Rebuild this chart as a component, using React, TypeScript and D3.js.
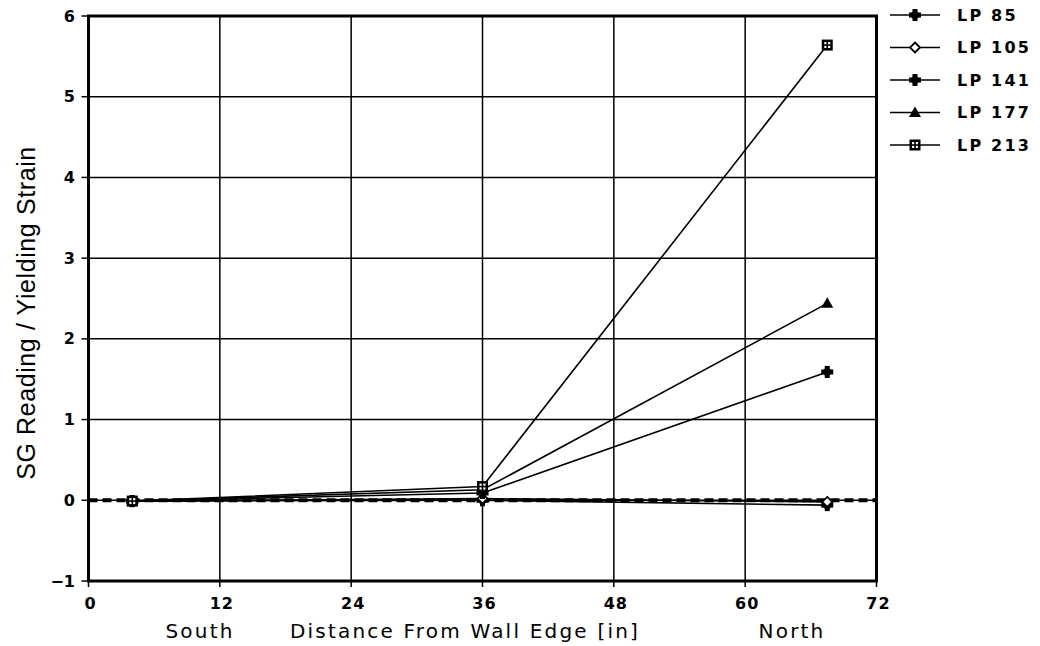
import React from "react";
import * as d3 from "d3";

const xPositions = [4, 36, 67.5];
const seriesNames = ["LP 85", "LP 105", "LP 141", "LP 177", "LP 213"];
const lp85 = [-0.01, 0.0, -0.06];
const lp105 = [-0.01, 0.02, -0.02];
const lp141 = [-0.01, 0.09, 1.59];
const lp177 = [-0.01, 0.13, 2.44];
const lp213 = [-0.01, 0.17, 5.64];
const markerKinds = ["plus", "diamond", "plus", "triangle", "boxcross"];
const xTicks = [0, 12, 24, 36, 48, 60, 72];
const yTicks = [-1, 0, 1, 2, 3, 4, 5, 6];

const seriesValues = [lp85, lp105, lp141, lp177, lp213];

const W = 1040, H = 646;
const L = 88.5, R = 876.5, T = 16, B = 581;

function Marker({ kind, x, y }: { kind: string; x: number; y: number }) {
  if (kind === "plus") {
    return (
      <g transform={`translate(${x},${y})`}>
        <rect x={-6} y={-2.5} width={12} height={5} fill="#000" />
        <rect x={-2.5} y={-6} width={5} height={12} fill="#000" />
        <circle r={4} fill="#000" />
      </g>
    );
  }
  if (kind === "diamond") {
    return (
      <path
        transform={`translate(${x},${y})`}
        d="M0,-5L5,0L0,5L-5,0Z"
        fill="#fff"
        stroke="#000"
        strokeWidth={1.8}
      />
    );
  }
  if (kind === "triangle") {
    return <path transform={`translate(${x},${y})`} d="M0,-6L6,4.5L-6,4.5Z" fill="#000" />;
  }
  return (
    <g transform={`translate(${x},${y})`}>
      <rect x={-5.5} y={-5.5} width={11} height={11} fill="#000" />
      <rect x={-3} y={-3} width={2.2} height={2.2} fill="#fff" />
      <rect x={0.8} y={-3} width={2.2} height={2.2} fill="#fff" />
      <rect x={-3} y={0.8} width={2.2} height={2.2} fill="#fff" />
      <rect x={0.8} y={0.8} width={2.2} height={2.2} fill="#fff" />
    </g>
  );
}

export default function App() {
  const x = d3.scaleLinear().domain([0, 72]).range([L, R]);
  const y = d3.scaleLinear().domain([-1, 6]).range([B, T]);
  const line = d3
    .line<number>()
    .x((_, i) => x(xPositions[i]))
    .y((d) => y(d));

  const tickFont = "'DejaVu Sans', sans-serif";

  return (
    <svg
      width={W}
      height={H}
      style={{ position: "absolute", left: 0, top: 0, background: "#fff" }}
    >
      {/* grid */}
      {xTicks.map((t) => (
        <line key={"gx" + t} x1={x(t)} x2={x(t)} y1={T} y2={B} stroke="#000" strokeWidth={1.5} />
      ))}
      {yTicks.map((t) => (
        <line key={"gy" + t} x1={L} x2={R} y1={y(t)} y2={y(t)} stroke="#000" strokeWidth={1.5} />
      ))}
      {/* ticks outward */}
      {yTicks.map((t) => (
        <line key={"ty" + t} x1={L - 7} x2={L} y1={y(t)} y2={y(t)} stroke="#000" strokeWidth={1.5} />
      ))}
      {xTicks.map((t) => (
        <line key={"tx" + t} x1={x(t)} x2={x(t)} y1={B} y2={B + 6} stroke="#000" strokeWidth={1.5} />
      ))}
      {/* frame */}
      <rect x={L} y={T} width={R - L} height={B - T} fill="none" stroke="#000" strokeWidth={3} />

      {/* zero dashed line */}
      <line
        x1={L}
        x2={R}
        y1={y(0)}
        y2={y(0)}
        stroke="#000"
        strokeWidth={4}
        strokeDasharray="9 5"
      />

      {/* series */}
      {seriesValues.map((vals, si) => (
        <g key={"s" + si}>
          <path d={line(vals) || ""} fill="none" stroke="#000" strokeWidth={1.6} />
          {vals.map((v, i) => (
            <Marker key={i} kind={markerKinds[si]} x={x(xPositions[i])} y={y(v)} />
          ))}
        </g>
      ))}

      {/* y tick labels */}
      {yTicks.map((t) => (
        <text
          key={"ly" + t}
          x={75}
          y={y(t)}
          dy="0.35em"
          textAnchor="end"
          fontFamily={tickFont}
          fontWeight="bold"
          fontSize={16}
        >
          {t < 0 ? "\u2212" + Math.abs(t) : t}
        </text>
      ))}
      {/* x tick labels */}
      {xTicks.map((t) => (
        <text
          key={"lx" + t}
          x={x(t) + 2}
          y={609}
          textAnchor="middle"
          fontFamily={tickFont}
          fontWeight="bold"
          fontSize={16}
          letterSpacing={1}
        >
          {t}
        </text>
      ))}

      {/* axis titles */}
      <text
        transform={`translate(35,${313}) rotate(-90)`}
        textAnchor="middle"
        fontFamily="'Liberation Sans', Arial, sans-serif"
        fontSize={25}
        letterSpacing={0.6}
      >
        SG Reading / Yielding Strain
      </text>
      <text x={200} y={638} textAnchor="middle" fontFamily={tickFont} fontSize={20} letterSpacing={2.2}>
        South
      </text>
      <text x={465} y={638} textAnchor="middle" fontFamily={tickFont} fontSize={20} letterSpacing={2.2}>
        Distance From Wall Edge [in]
      </text>
      <text x={792} y={638} textAnchor="middle" fontFamily={tickFont} fontSize={20} letterSpacing={2.2}>
        North
      </text>

      {/* legend */}
      {seriesNames.map((name, i) => {
        const ly = 15 + i * 32.5;
        return (
          <g key={"lg" + i}>
            <line x1={890} x2={940} y1={ly} y2={ly} stroke="#000" strokeWidth={1.6} />
            <Marker kind={markerKinds[i]} x={915} y={ly} />
            <text
              x={957}
              y={ly}
              dy="0.36em"
              fontFamily={tickFont}
              fontWeight="bold"
              fontSize={16}
              letterSpacing={2.2}
            >
              {name}
            </text>
          </g>
        );
      })}
    </svg>
  );
}
